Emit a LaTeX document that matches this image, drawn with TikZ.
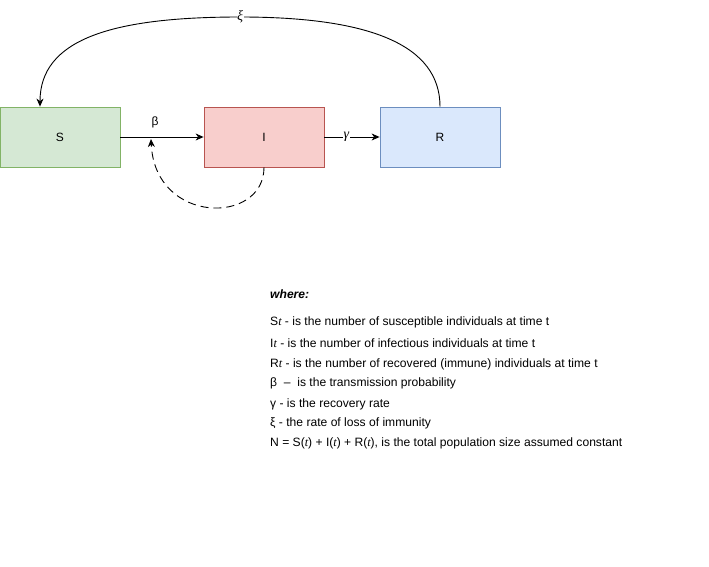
\documentclass[tikz,border=0pt]{standalone}
\usepackage{fontspec}
\setmainfont{Liberation Sans}
\newfontfamily\serif{Liberation Serif}
\usetikzlibrary{arrows.meta}
\definecolor{sfill}{HTML}{D5E8D4}\definecolor{sline}{HTML}{82B366}
\definecolor{ifill}{HTML}{F8CECC}\definecolor{iline}{HTML}{B85450}
\definecolor{rfill}{HTML}{DAE8FC}\definecolor{rline}{HTML}{6C8EBF}
\newcommand{\tit}{{\serif\itshape t}}
\tikzset{
  box/.style={minimum width=120pt,minimum height=60pt,inner sep=0pt,line width=0.8pt,font=\fontsize{12}{14}\selectfont},
  edge/.style={line width=0.9pt,-{Stealth[length=8pt,width=7pt,inset=2.5pt]}},
  legend/.style={anchor=west,inner sep=0pt,font=\fontsize{12.1}{14}\selectfont},
  lbl/.style={inner sep=1pt,font=\fontsize{12}{14}\selectfont},
  glbl/.style={inner sep=0.5pt,fill=white,font=\fontsize{14}{14}\selectfont\serif\itshape}
}
\begin{document}
\begin{tikzpicture}[x=1pt,y=-1pt]
\useasboundingbox (0,0) rectangle (709,567);
\node[box,draw=sline,fill=sfill] (S) at (60,137) {S};
\node[box,draw=iline,fill=ifill] (I) at (264,137) {I};
\node[box,draw=rline,fill=rfill] (R) at (440,137) {R};
\coordinate (st) at ([xshift=-20pt]S.north);
\coordinate (tip) at (151,139);
\draw[edge] (S) -- (I);
\node[lbl] (beta) at (155,122) {β};
\draw[edge] (I) -- node[glbl,pos=0.4] (gam) {γ} (R);
\draw[edge] (R.north) .. controls (440,45) and (370,17) .. (240,17)
  node[glbl] (xi) {ξ}
  .. controls (110,17) and (40,40) .. (st);
\draw[edge,dash pattern=on 8pt off 5pt] (I.south) .. controls (264,225) and (155,225) .. (tip);
\node[legend,font=\fontsize{12.1}{14}\selectfont\bfseries\itshape] (w) at (270,294) {where:};
\node[legend] (l1) at (270,322) {S\tit{} - is the number of susceptible individuals at time t};
\node[legend] (l2) at (270,343) {I\tit{} - is the number of infectious individuals at time t};
\node[legend] (l3) at (270,364) {R\tit{} - is the number of recovered (immune) individuals at time t};
\node[legend] (l4) at (270,383) {β\ \ –\ \ is the transmission probability};
\node[legend] (l5) at (270,404) {γ - is the recovery rate};
\node[legend] (l6) at (270,423) {ξ - the rate of loss of immunity};
\node[legend] (l7) at (270,443) {N = S(\tit) + I(\tit) + R(\tit), is the total population size assumed constant};
\end{tikzpicture}
\end{document}
